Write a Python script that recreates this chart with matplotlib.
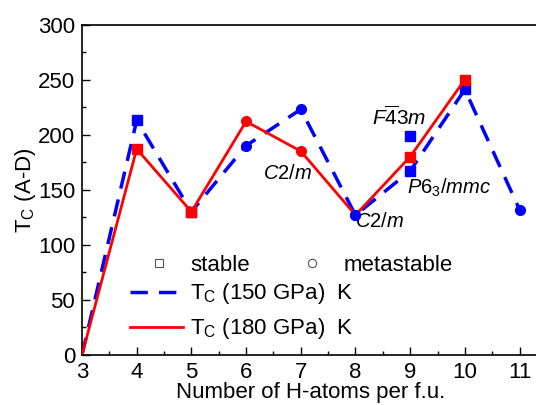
import matplotlib.pyplot as plt
from matplotlib.lines import Line2D

plt.rcParams['font.family'] = 'Liberation Sans'
plt.rcParams['mathtext.fontset'] = 'custom'
plt.rcParams['mathtext.rm'] = 'Liberation Sans'
plt.rcParams['mathtext.it'] = 'Liberation Sans:italic'

# данные
n_h = [3, 4, 5, 6, 7, 8, 9, 10, 11]
tc_150 = [0, 213, 130, 190, 223, 127, 167, 241, 132]
mk_150 = [None, 's', 's', 'o', 'o', 'o', 's', 's', 'o']
n_h_180 = [3, 4, 5, 6, 7, 8, 9, 10]
tc_180 = [0, 187, 130, 212, 185, 127, 180, 250]
mk_180 = [None, 's', 's', 'o', 'o', 'o', 's', 's']
extra_x = [9]
extra_tc = [199]

blue = '#0000ff'
red = '#ff0000'
fs = 16

fig = plt.figure(figsize=(5.36, 4.05), dpi=100)
ax = fig.add_axes([0.153, 0.1235, 0.852, 0.816])

ax.plot(n_h, tc_150, color=blue, lw=2.5, dashes=(5, 3.2), zorder=2)
for x, y, m in zip(n_h, tc_150, mk_150):
    if m:
        ax.plot(x, y, marker=m, color=blue, ms=7, ls='none', zorder=3)
ax.plot(extra_x, extra_tc, marker='s', color=blue, ms=7, ls='none', zorder=3)

ax.plot(n_h_180, tc_180, color=red, lw=2, zorder=4)
for x, y, m in zip(n_h_180, tc_180, mk_180):
    if m and x != 8:
        ax.plot(x, y, marker=m, color=red, ms=7, ls='none', zorder=5)
# x=8: синий кружок поверх
ax.plot(8, tc_150[5], marker='o', color=blue, ms=7, ls='none', zorder=6)

ax.text(8.31, 216, r'$\mathit{F\overline{4}3m}$', fontsize=15, va='center')
ax.text(8.95, 152, r'$\mathit{P6_3/mmc}$', fontsize=14.5, va='center')
ax.text(8.0, 121, r'$\mathit{C2/m}$', fontsize=14.5, va='center')
ax.text(6.31, 165, r'$\mathit{C2/m}$', fontsize=14.5, va='center')

ax.set_xlim(3, 11.35)
ax.set_ylim(0, 300)
ax.set_xticks(range(3, 12))
ax.set_xticks([3.5 + i for i in range(8)], minor=True)
ax.set_yticks(range(0, 301, 50))
ax.set_yticks(range(25, 300, 50), minor=True)
ax.tick_params(which='both', direction='in', labelsize=fs, width=1)
ax.tick_params(which='major', length=6)
ax.tick_params(which='minor', length=3)
ax.tick_params(axis='x', pad=5)
ax.tick_params(axis='y', pad=5)
for s in ax.spines.values():
    s.set_linewidth(1.2)
ax.spines['right'].set_visible(False)

ax.set_xlabel('Number of H-atoms per f.u.', fontsize=fs, labelpad=-1)
ax.set_ylabel(r'T$_\mathrm{C}$ (A-D)', fontsize=fs, labelpad=0)

h1 = [Line2D([], [], marker='s', mfc='white', mec='#555555', ls='none', ms=6, mew=0.8),
      Line2D([], [], marker='o', mfc='white', mec='#555555', ls='none', ms=6, mew=0.8)]
leg1 = ax.legend(h1, ['stable', 'metastable'], ncol=2, frameon=False, fontsize=fs,
                 loc='center left', bbox_to_anchor=(0.12, 0.272), borderpad=0,
                 borderaxespad=0, handlelength=2.0, handletextpad=0.4,
                 columnspacing=1.8)
ax.add_artist(leg1)
h2 = [Line2D([], [], color=blue, lw=2.5, dashes=(5, 3.2)),
      Line2D([], [], color=red, lw=2)]
ax.legend(h2, [r'T$_\mathrm{C}$ (150 GPa)  K', r'T$_\mathrm{C}$ (180 GPa)  K'],
          frameon=False, fontsize=fs, loc='center left', bbox_to_anchor=(0.105, 0.132),
          borderpad=0, borderaxespad=0, handlelength=2.4, handletextpad=0.3,
          labelspacing=0.45)

fig.savefig('out.png', dpi=100)
